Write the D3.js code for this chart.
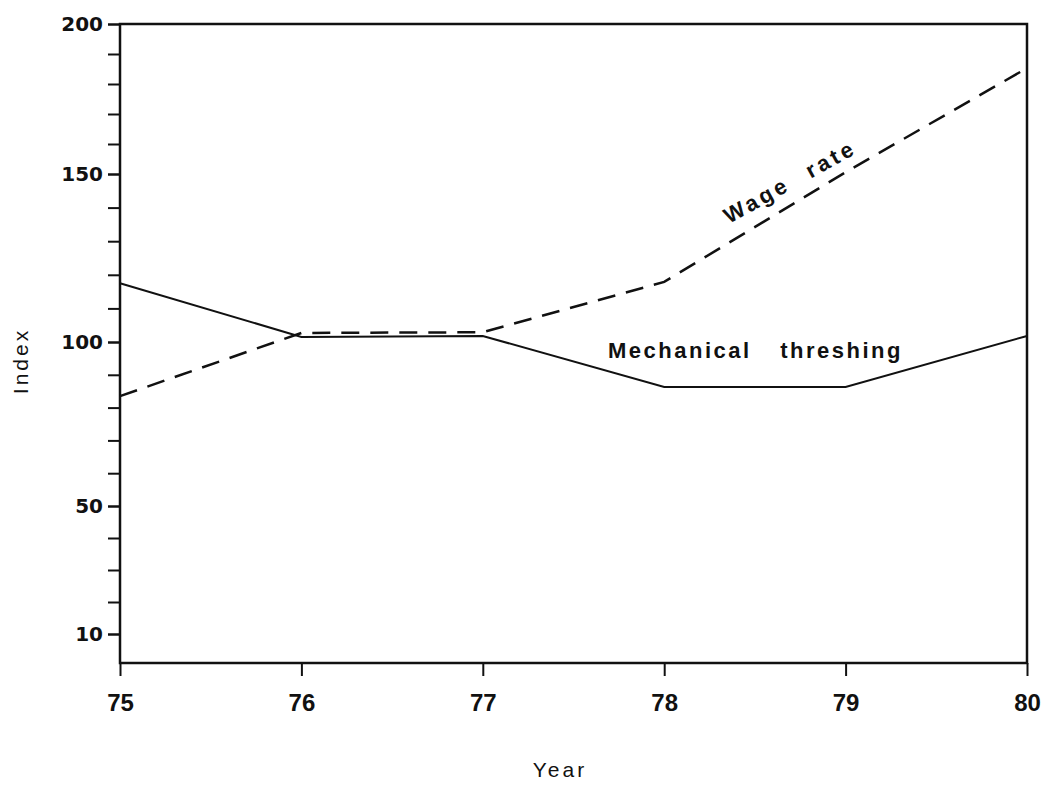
<!DOCTYPE html>
<html>
<head>
<meta charset="utf-8">
<script src="https://cdn.jsdelivr.net/npm/d3@7"></script>
<style>
  body { margin: 0; background: #fff; }
  svg { display: block; }
</style>
</head>
<body>
<script>
// index chart: wage rate vs mechanical threshing, 1975-80

const years = [75, 76, 77, 78, 79, 80];
const mechanical = [117.5, 101.5, 101.8, 86.3, 86.3, 101.8];
const wageRate = [83.5, 102.7, 102.9, 117.9, 150.6, 185.3];
const yMajor = [10, 50, 100, 150, 200];
const yMinor = d3.range(10, 201, 10);

const width = 1043;
const height = 787;

const svg = d3.select("body").append("svg").attr("width", width).attr("height", height);

const x = d3.scaleLinear().domain([75, 80]).range([120, 1027]);
// the printed axis is not evenly spaced, so the scale is piecewise between the labelled ticks
const y = d3.scaleLinear().domain([1, 10, 50, 100, 150, 200]).range([663, 634, 506, 342, 174, 24]);

const ink = "#111";

// minor ticks
const yMinorAxis = d3.axisLeft(y).tickValues(yMinor).tickSize(12).tickFormat("");
svg.append("g").attr("transform", "translate(" + x(75) + ",0)").call(yMinorAxis);

// labelled ticks
const yAxis = d3.axisLeft(y).tickValues(yMajor).tickSize(12).tickPadding(5);
svg.append("g").attr("id", "y-axis").attr("transform", "translate(" + x(75) + ",0)").call(yAxis);

const xAxis = d3.axisBottom(x).tickValues(years).tickSize(13).tickPadding(18).tickFormat(d3.format("d"));
svg.append("g").attr("id", "x-axis").attr("transform", "translate(0," + y(1) + ")").call(xAxis);

svg.selectAll(".domain").remove();
svg.selectAll(".tick line").attr("stroke", ink).attr("stroke-width", 2);
svg.selectAll("#y-axis .tick text").attr("fill", ink).style("font-family", "DejaVu Sans").style("font-weight", "bold").style("font-size", "20px");
svg.selectAll("#x-axis .tick text").attr("fill", ink).style("font-family", "Liberation Sans").style("font-weight", "bold").style("font-size", "24px");

// frame
svg.append("rect")
  .attr("x", x(75))
  .attr("y", y(200))
  .attr("width", x(80) - x(75))
  .attr("height", y(1) - y(200))
  .attr("fill", "none")
  .attr("stroke", ink)
  .attr("stroke-width", 2.5);

const line = d3.line().x((d, i) => x(years[i])).y((d) => y(d));

svg.append("path")
  .datum(mechanical)
  .attr("d", line)
  .attr("fill", "none")
  .attr("stroke", ink)
  .attr("stroke-width", 2);

svg.append("path")
  .datum(wageRate)
  .attr("d", line)
  .attr("fill", "none")
  .attr("stroke", ink)
  .attr("stroke-width", 2.5)
  .attr("stroke-dasharray", "18,11");

// series labels
svg.append("text")
  .attr("x", 608)
  .attr("y", 358)
  .attr("fill", ink)
  .style("font-family", "Liberation Sans")
  .style("font-weight", "bold")
  .style("font-size", "22px")
  .style("letter-spacing", "2.5px")
  .style("word-spacing", "20px")
  .text("Mechanical threshing");

svg.append("text")
  .attr("transform", "translate(729,224) rotate(-29)")
  .attr("fill", ink)
  .style("font-family", "Liberation Sans")
  .style("font-size", "22px")
  .style("font-weight", "bold")
  .style("letter-spacing", "3.5px")
  .style("word-spacing", "12px")
  .text("Wage rate");

// axis titles
svg.append("text")
  .attr("x", 560)
  .attr("y", 777)
  .attr("text-anchor", "middle")
  .attr("fill", ink)
  .style("font-family", "Liberation Sans")
  .style("font-size", "21px")
  .style("letter-spacing", "3px")
  .text("Year");

svg.append("text")
  .attr("transform", "translate(28,361) rotate(-90)")
  .attr("text-anchor", "middle")
  .attr("fill", ink)
  .style("font-family", "Liberation Sans")
  .style("font-size", "21px")
  .style("letter-spacing", "3px")
  .text("Index");
</script>
</body>
</html>
